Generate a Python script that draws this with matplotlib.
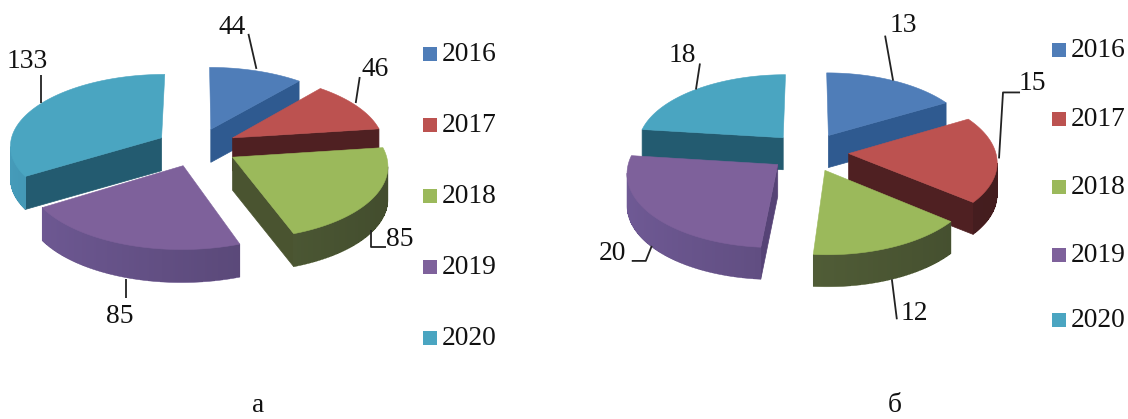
import numpy as np
import matplotlib
matplotlib.use("Agg")
import matplotlib.pyplot as plt
from matplotlib.colors import to_rgb
from matplotlib.patches import Polygon, Rectangle

# ---- data ----
years = ["2016", "2017", "2018", "2019", "2020"]
values_a = [44, 46, 85, 85, 133]
values_b = [13, 15, 12, 20, 18]
panel_labels = ["а", "б"]

# ---- styles ----
top_colors = ["#4F7DB8", "#BC5250", "#9BB95B", "#7E619B", "#4AA5C1"]
radial_colors = ["#2F5A90", "#4F2022", "#4A5430", "#564376", "#235B70"]
rim_colors = ["#3A659C", "#552426", "#55623A", "#67538A", "#4090AC"]
TEXT = "#111111"
FS = 19.8

plt.rcParams["font.family"] = ["Liberation Serif", "DejaVu Serif"]
fig = plt.figure(figsize=(11.28, 4.19), dpi=100)
ax = fig.add_axes([0, 0, 1, 1])
ax.set_xlim(0, 1128)
ax.set_ylim(419, 0)
ax.axis("off")


def shade(color, f):
    return tuple(min(1, c * f) for c in to_rgb(color))


def draw_pie(values, cx, cy, R, k, p, e, depth, draw_order):
    values = np.asarray(values, float)
    edges = np.concatenate([[0], np.cumsum(values)]) / values.sum() * 2 * np.pi
    anchors = {}

    def project(x, y):
        f = 1 / (1 + p * y)
        return cx + R * x * f, cy - R * k * y * f

    for z, i in enumerate(draw_order):
        a0, a1 = edges[i], edges[i + 1]
        mid = (a0 + a1) / 2
        ox, oy = e * np.sin(mid), e * np.cos(mid)
        th = np.linspace(a0, a1, 90)
        sx, sy = project(ox + np.sin(th), oy + np.cos(th))
        ax0, ay0 = project(ox, oy)
        # flat walls: visible when their edge runs clearly leftward round the slice
        walls = []
        if sx[0] < ax0 - 5:
            walls.append((sx[0], sy[0]))
        if sx[-1] > ax0 + 5:
            walls.append((sx[-1], sy[-1]))
        for ex, ey in walls:
            ax.add_patch(Polygon([(ax0, ay0), (ex, ey), (ex, ey + depth), (ax0, ay0 + depth)],
                                 closed=True, fc=radial_colors[i], ec=radial_colors[i],
                                 lw=0.5, zorder=z + 1))
        # curved rim: a smooth underlay, then aliased shaded strips without seams
        vis = [j for j in range(len(th) - 1) if sx[j + 1] < sx[j]]
        if vis:
            jj = np.r_[vis, vis[-1] + 1]
            outline = np.r_[np.column_stack([sx[jj], sy[jj]]),
                            np.column_stack([sx[jj][::-1], sy[jj][::-1] + depth])]
            ax.add_patch(Polygon(outline, closed=True, fc=rim_colors[i], ec=rim_colors[i],
                                 lw=0.4, zorder=z + 1.1))
        for j in vis:
            f = 1.08 - 0.3 * (np.sin(th[j]) + 1) / 2
            col = shade(rim_colors[i], f)
            ax.add_patch(Polygon([(sx[j], sy[j]), (sx[j + 1], sy[j + 1]),
                                  (sx[j + 1], sy[j + 1] + depth - 0.8), (sx[j], sy[j] + depth - 0.8)],
                                 closed=True, fc=col, ec="none", antialiased=False, zorder=z + 1.2))
        # top face
        ax.add_patch(Polygon(np.column_stack([np.r_[ax0, sx], np.r_[ay0, sy]]), closed=True,
                             fc=top_colors[i], ec=top_colors[i], lw=0.4, zorder=z + 1.5))
        anchors[i] = project(ox + np.sin(mid), oy + np.cos(mid))
    return anchors


order = [0, 4, 1, 2, 3]
anch_a = draw_pie(values_a, 197, 147, 152, 0.47, 0.10, 0.27, 33, order)
anch_b = draw_pie(values_b, 809, 152, 147, 0.49, 0.10, 0.27, 32, order)


def leader(anchor, pts, txt, tx, ty):
    xs = [anchor[0] + q[0] for q in pts]
    ys = [anchor[1] + q[1] for q in pts]
    ax.plot(xs, ys, color="#222222", lw=1.3, zorder=8, solid_capstyle="butt")
    ax.text(tx, ty, txt, fontsize=FS, color=TEXT, ha="center", va="center", zorder=9)


# leader shapes relative to each slice's rim midpoint
leaders_a = [[(0, -2), (-8, -37)], [(-1, -3), (3, -29)], [(-2, 32), (-2, 49), (13, 49)],
             [(1, 35), (1, 54)], [(3, -2), (3, -30)]]
text_a = [(232, 27), (375, 70), (400, 239), (120, 316), (27, 61)]
leaders_b = [[(0, 0), (-8, -45)], [(2, -1), (6, -67), (23, -67)], [(0, 32), (5, 72)],
             [(0, 31), (-6, 46), (-20, 46)], [(0, 0), (4, -26)]]
text_b = [(903, 25), (1032, 84), (914, 313), (612, 253), (682, 55)]
for i, v in enumerate(values_a):
    leader(anch_a[i], leaders_a[i], str(v), *text_a[i])
for i, v in enumerate(values_b):
    leader(anch_b[i], leaders_b[i], str(v), *text_b[i])

# legends
legend_ys_a = [54, 125, 196, 267, 338]
legend_ys_b = [50, 119, 187, 255, 320]
for lx, ys in ((423, legend_ys_a), (1052, legend_ys_b)):
    for i, y in enumerate(ys):
        ax.add_patch(Rectangle((lx, y - 7), 14, 14, fc=top_colors[i], ec="none", zorder=5))
        ax.text(lx + 18.5, y + 0.5, years[i], fontsize=FS, color=TEXT, ha="left", va="center")

ax.text(258, 405, panel_labels[0], fontsize=FS, color=TEXT, ha="center", va="center")
ax.text(895, 405, panel_labels[1], fontsize=FS, color=TEXT, ha="center", va="center")

fig.savefig("out.png", dpi=100, facecolor="white")
